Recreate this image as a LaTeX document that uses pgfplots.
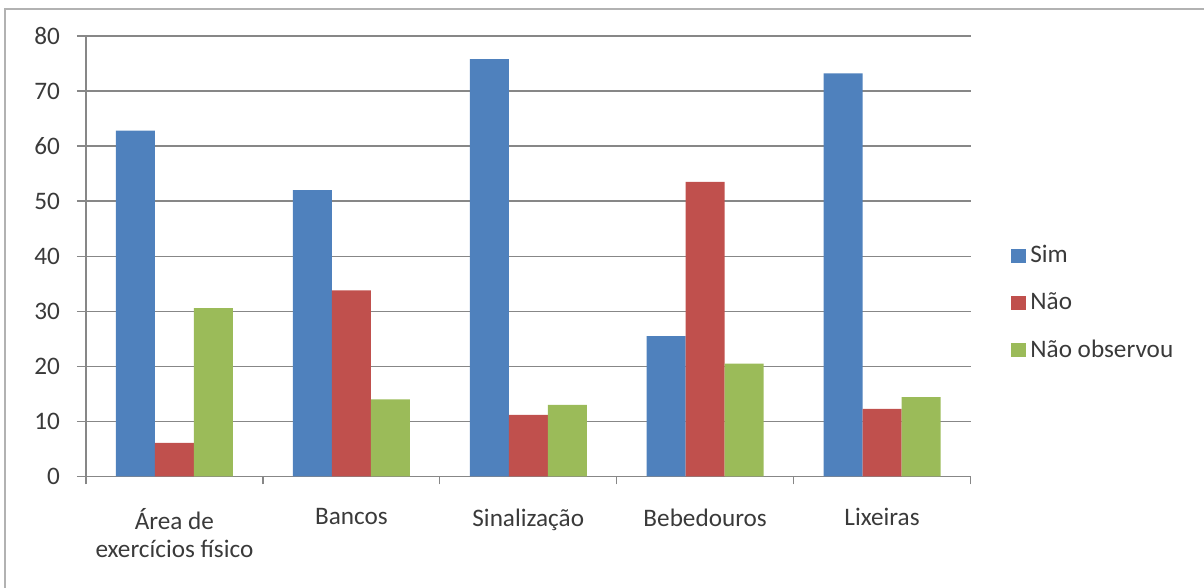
\documentclass[border=0pt]{standalone}
\usepackage{pgfplots}
\pgfplotsset{compat=1.18}
\usepackage{fontspec}
\setmainfont{Carlito}
\definecolor{simblue}{HTML}{4F81BD}
\definecolor{naored}{HTML}{C0504D}
\definecolor{obsgreen}{HTML}{9BBB59}
\definecolor{gridgray}{HTML}{878787}
\definecolor{txt}{HTML}{3A3A3A}
\begin{document}
\begin{tikzpicture}
\path[use as bounding box] (0,0) rectangle (602pt,294pt);
% outer chart frame (top and left edges)
\draw[gray!60, line width=1pt] (2.5pt,0) -- (2.5pt,289.5pt) -- (602pt,289.5pt);
\begin{axis}[
  at={(43pt,55.75pt)}, anchor=south west,
  scale only axis,
  width=442.25pt, height=220.25pt,
  ybar=0pt, bar width=19.5pt,
  xmin=-0.5, xmax=4.5,
  ymin=0, ymax=80,
  ytick={0,10,...,80},
  xtick={0,1,2,3,4},
  xticklabels={{Área de\\exercícios físico},Bancos,Sinalização,Bebedouros,Lixeiras},
  minor xtick={-0.5,0.5,...,4.5},
  axis lines*=left,
  axis line style={gridgray, line width=0.7pt},
  ymajorgrids, grid style={gridgray, line width=0.7pt},
  tick align=outside,
  major tick length=4.5pt,
  minor tick length=4pt,
  x tick style={draw=none},
  minor x tick style={draw=gridgray, line width=0.6pt},
  y tick style={gridgray, line width=0.7pt},
  /pgf/number format/assume math mode=true,
  tick label style={font=\fontsize{12.6}{14}\selectfont, text=txt},
  xticklabel style={align=center, yshift=-8pt, font=\fontsize{12.6}{14}\selectfont},
  yticklabel style={xshift=-5pt},
  legend style={at={(1.039,0.394)}, anchor=west, draw=none, fill=none,
    font=\fontsize{12.6}{14}\selectfont, text=txt,
    row sep=9.5pt, legend cell align=left},
  legend image code/.code={\fill[#1] (0pt,-3.4pt) rectangle (7.5pt,3.4pt);},
]
\addplot[fill=simblue, draw=none] coordinates {(0,62.8) (1,52.0) (2,75.8) (3,25.5) (4,73.2)};
\addplot[fill=naored, draw=none] coordinates {(0,6.1) (1,33.8) (2,11.2) (3,53.5) (4,12.3)};
\addplot[fill=obsgreen, draw=none] coordinates {(0,30.6) (1,14.0) (2,13.0) (3,20.5) (4,14.4)};
\legend{Sim,Não,Não observou}
\end{axis}
\end{tikzpicture}
\end{document}
